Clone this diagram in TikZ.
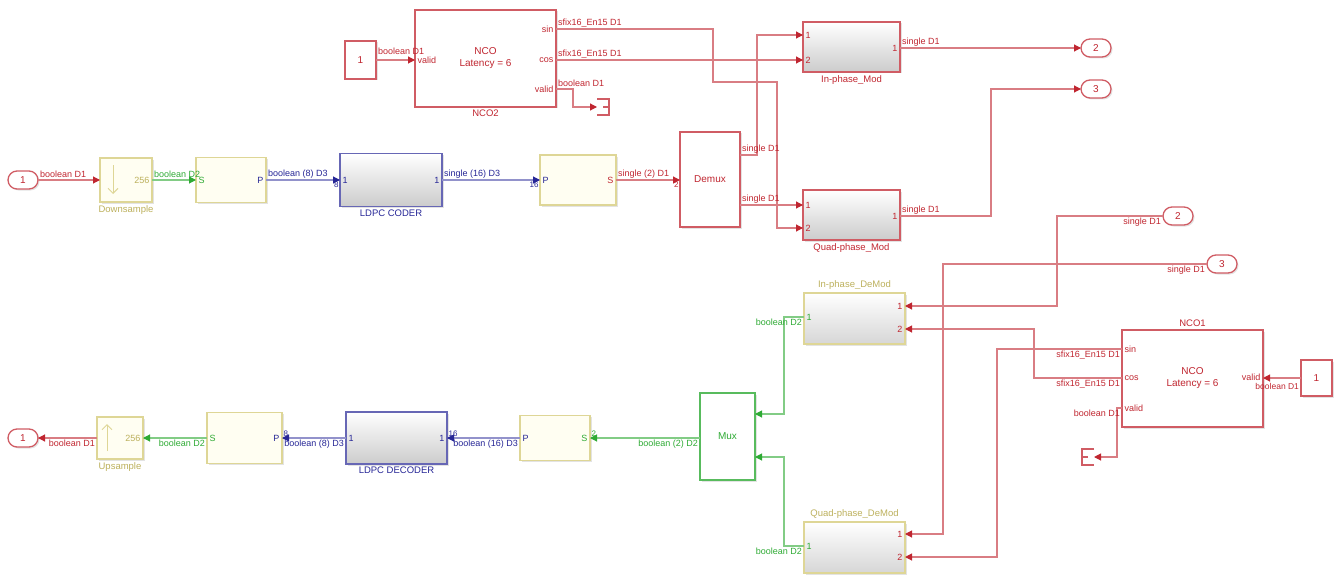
\documentclass[tikz,border=0pt]{standalone}
\usepackage{fontspec}
\setmainfont{Liberation Sans}
\usetikzlibrary{calc,positioning,arrows.meta,shapes.misc,shadows}

\definecolor{simred}{RGB}{192,38,48}
\definecolor{simgreen}{RGB}{46,170,52}
\definecolor{simblue}{RGB}{38,38,150}
\definecolor{simkhaki}{RGB}{222,214,150}
\definecolor{khakitxt}{RGB}{188,176,92}

\tikzset{
  blk/.style={draw, line width=1.3pt, inner sep=0pt, outer sep=0pt,
    anchor=north west, align=center, font=\fontsize{10}{12}\selectfont,
    drop shadow={opacity=0.22, shadow xshift=1.5pt, shadow yshift=-1.5pt}},
  redblk/.style={blk, draw=simred!75, fill=white, text=simred},
  modblk/.style={blk, draw=simred!75, top color=white, bottom color=black!20},
  demodblk/.style={blk, draw=simkhaki, top color=white, bottom color=black!16},
  ldpcblk/.style={blk, draw=simblue!70, line width=1.6pt, top color=white, bottom color=black!20},
  convblk/.style={blk, draw=simkhaki, fill=yellow!5},
  muxblk/.style={blk, draw=simgreen!80, fill=white, text=simgreen},
  iport/.style={rounded rectangle, draw=simred!75, line width=1.3pt, fill=white,
    text=simred, minimum width=30pt, minimum height=18pt, inner sep=0pt,
    outer sep=0pt, font=\fontsize{10}{12}\selectfont,
    drop shadow={opacity=0.22, shadow xshift=1.5pt, shadow yshift=-1.5pt}},
  ttl/.style={font=\fontsize{9.5}{11}\selectfont, inner sep=3pt},
  plbl/.style={font=\fontsize{9}{10}\selectfont, inner sep=2.5pt},
  sl/.style={font=\fontsize{9}{10}\selectfont, inner sep=1.5pt},
  dimlbl/.style={font=\fontsize{8}{9}\selectfont, inner sep=1pt},
  rsig/.style={draw=simred!60, line width=1.1pt, -{Triangle[length=7pt,width=7pt,color=simred]}},
  gsig/.style={draw=simgreen!60, line width=1.1pt, -{Triangle[length=7pt,width=7pt,color=simgreen]}},
  bsig/.style={draw=simblue!50, line width=1.1pt, -{Triangle[length=7pt,width=7pt,color=simblue]}},
  termline/.style={draw=simred!75, line width=1.2pt},
  ratearrow/.style={draw=simkhaki, line width=1pt, -{Straight Barb[length=5pt,width=10pt]}}
}

\begin{document}
\begin{tikzpicture}[x=1pt, y=-1pt]
  \useasboundingbox (0,0) rectangle (1343,575);

  % transmitter: carrier generator
  \node[redblk, minimum width=31pt, minimum height=38pt] (c2) at (345,41) {1};
  \node[redblk, minimum width=141pt, minimum height=97pt,
    label={[ttl, text=simred]below:NCO2}] (nco2) at (415,10) {NCO\\Latency = 6};
  \node[minimum width=12pt, minimum height=16pt, inner sep=0pt, outer sep=0pt] (term2) at (603,107) {};

  % transmitter: modulators and outputs
  \node[modblk, minimum width=97pt, minimum height=50pt,
    label={[ttl, text=simred]below:In-phase\_Mod}] (ipmod) at (803,22) {};
  \node[modblk, minimum width=97pt, minimum height=50pt,
    label={[ttl, text=simred]below:Quad-phase\_Mod}] (qpmod) at (803,190) {};
  \node[iport] (out2) at (1096,48) {2};
  \node[iport] (out3) at (1096,89) {3};
  \node[redblk, minimum width=60pt, minimum height=95pt] (demux) at (680,132) {Demux};

  % transmitter: coding chain
  \node[iport] (in1) at (23,180) {1};
  \node[convblk, minimum width=52pt, minimum height=44pt,
    label={[ttl, text=khakitxt]below:Downsample}] (down) at (100,158) {};
  \node[convblk, minimum width=70pt, minimum height=45pt] (sp1) at (196,157.5) {};
  \node[ldpcblk, minimum width=102pt, minimum height=53pt,
    label={[ttl, text=simblue]below:LDPC CODER}] (coder) at (340,153.5) {};
  \node[convblk, minimum width=76pt, minimum height=50pt] (ps1) at (540,155) {};

  % receiver: inputs and carrier generator
  \node[iport] (ri2) at (1178,216) {2};
  \node[iport] (ri3) at (1222,264) {3};
  \node[redblk, minimum width=141pt, minimum height=97pt,
    label={[ttl, text=simred]above:NCO1}] (nco1) at (1122,330) {NCO\\Latency = 6};
  \node[redblk, minimum width=31pt, minimum height=36pt] (c1) at (1301,360) {1};
  \node[minimum width=12pt, minimum height=16pt, inner sep=0pt, outer sep=0pt] (term1) at (1088,457) {};

  % receiver: demodulators
  \node[demodblk, minimum width=101pt, minimum height=51pt,
    label={[ttl, text=khakitxt]above:In-phase\_DeMod}] (ipdem) at (804,293) {};
  \node[demodblk, minimum width=101pt, minimum height=51pt,
    label={[ttl, text=khakitxt]above:Quad-phase\_DeMod}] (qpdem) at (804,522) {};
  \node[muxblk, minimum width=55pt, minimum height=87pt] (mux) at (700,393) {Mux};

  % receiver: decoding chain
  \node[convblk, minimum width=70pt, minimum height=45pt] (ps2) at (520,415.5) {};
  \node[ldpcblk, minimum width=101pt, minimum height=52pt,
    label={[ttl, text=simblue]below:LDPC DECODER}] (dec) at (346,412) {};
  \node[convblk, minimum width=75pt, minimum height=51pt] (sp2) at (207,412.5) {};
  \node[convblk, minimum width=46pt, minimum height=42pt,
    label={[ttl, text=khakitxt]below:Upsample}] (up) at (97,417) {};
  \node[iport] (out1) at (23,438) {1};

  % ports
  \coordinate[label={[plbl, text=simred]right:valid}] (nco2-vin) at (nco2.west |- 0,60);
  \coordinate[label={[plbl, text=simred]left:sin}] (nco2-sin) at (nco2.east |- 0,29);
  \coordinate[label={[plbl, text=simred]left:cos}] (nco2-cos) at (nco2.east |- 0,60);
  \coordinate[label={[plbl, text=simred]left:valid}] (nco2-vout) at (nco2.east |- 0,89);
  \coordinate[label={[plbl, text=simred]right:1}] (ipmod-in1) at (ipmod.west |- 0,35);
  \coordinate[label={[plbl, text=simred]right:2}] (ipmod-in2) at (ipmod.west |- 0,60);
  \coordinate[label={[plbl, text=simred]left:1}] (ipmod-out) at (ipmod.east |- 0,48);
  \coordinate[label={[plbl, text=simred]right:1}] (qpmod-in1) at (qpmod.west |- 0,205);
  \coordinate[label={[plbl, text=simred]right:2}] (qpmod-in2) at (qpmod.west |- 0,228);
  \coordinate[label={[plbl, text=simred]left:1}] (qpmod-out) at (qpmod.east |- 0,216);
  \coordinate (demux-in) at (demux.west |- 0,180);
  \coordinate (demux-o1) at (demux.east |- 0,155);
  \coordinate (demux-o2) at (demux.east |- 0,205);
  \coordinate (down-in) at (down.west |- 0,180);
  \coordinate (down-out) at (down.east |- 0,180);
  \coordinate[label={[plbl, text=simgreen]right:S}] (sp1-in) at (sp1.west |- 0,180);
  \coordinate[label={[plbl, text=simblue]left:P}] (sp1-out) at (sp1.east |- 0,180);
  \coordinate[label={[plbl, text=simblue]right:1}] (coder-in) at (coder.west |- 0,180);
  \coordinate[label={[plbl, text=simblue]left:1}] (coder-out) at (coder.east |- 0,180);
  \coordinate[label={[plbl, text=simblue]right:P}] (ps1-in) at (ps1.west |- 0,180);
  \coordinate[label={[plbl, text=simred]left:S}] (ps1-out) at (ps1.east |- 0,180);

  \coordinate[label={[plbl, text=simred]right:sin}] (nco1-sin) at (nco1.west |- 0,349);
  \coordinate[label={[plbl, text=simred]right:cos}] (nco1-cos) at (nco1.west |- 0,378);
  \coordinate[label={[plbl, text=simred]right:valid}] (nco1-vout) at (nco1.west |- 0,408);
  \coordinate[label={[plbl, text=simred, yshift=1pt]left:valid}] (nco1-vin) at (nco1.east |- 0,378);
  \coordinate[label={[plbl, text=simred]left:1}] (ipdem-in1) at (ipdem.east |- 0,306);
  \coordinate[label={[plbl, text=simred]left:2}] (ipdem-in2) at (ipdem.east |- 0,329);
  \coordinate[label={[plbl, text=simgreen]right:1}] (ipdem-out) at (ipdem.west |- 0,317);
  \coordinate[label={[plbl, text=simred]left:1}] (qpdem-in1) at (qpdem.east |- 0,534);
  \coordinate[label={[plbl, text=simred]left:2}] (qpdem-in2) at (qpdem.east |- 0,557);
  \coordinate[label={[plbl, text=simgreen]right:1}] (qpdem-out) at (qpdem.west |- 0,546);
  \coordinate (mux-in1) at (mux.east |- 0,414);
  \coordinate (mux-in2) at (mux.east |- 0,457);
  \coordinate (mux-out) at (mux.west |- 0,438);
  \coordinate[label={[plbl, text=simgreen]left:S}] (ps2-in) at (ps2.east |- 0,438);
  \coordinate[label={[plbl, text=simblue]right:P}] (ps2-out) at (ps2.west |- 0,438);
  \coordinate[label={[plbl, text=simblue]left:1}] (dec-in) at (dec.east |- 0,438);
  \coordinate[label={[plbl, text=simblue]right:1}] (dec-out) at (dec.west |- 0,438);
  \coordinate[label={[plbl, text=simblue]left:P}] (sp2-in) at (sp2.east |- 0,438);
  \coordinate[label={[plbl, text=simgreen]right:S}] (sp2-out) at (sp2.west |- 0,438);
  \coordinate (up-in) at (up.east |- 0,438);
  \coordinate (up-out) at (up.west |- 0,438);

  % rate change icons and terminators
  \draw[ratearrow] ($(down.north west)+(13,7)$) -- ($(down.south west)+(13,-8)$);
  \node[plbl, text=khakitxt, anchor=east] (down-n) at (down.east) {256};
  \draw[ratearrow] ($(up.south west)+(10,-8)$) -- ($(up.north west)+(10,7)$);
  \node[plbl, text=khakitxt, anchor=east] (up-n) at (up.east) {256};
  \draw[termline] (term2.north west) -- (term2.north east) -- (term2.south east) -- (term2.south west)
    (term2.center) -- (term2.east);
  \draw[termline] (term1.north east) -- (term1.north west) -- (term1.south west) -- (term1.south east)
    (term1.center) -- (term1.west);

  % transmitter signals
  \draw[rsig] (c2.east) node[sl, text=simred, anchor=south west, yshift=3pt] {boolean D1} -- (nco2-vin);
  \draw[rsig] (nco2-sin) node[sl, text=simred, anchor=south west] {sfix16\_En15 D1}
    -| (713,82) -| (777,228) -- (qpmod-in2);
  \draw[rsig] (nco2-cos) node[sl, text=simred, anchor=south west] {sfix16\_En15 D1} -- (ipmod-in2);
  \draw[rsig] (nco2-vout) node[sl, text=simred, anchor=south west] {boolean D1}
    -| (573,107) -- (term2.west);
  \draw[rsig] (in1.east) node[sl, text=simred, anchor=south west] {boolean D1} -- (down-in);
  \draw[gsig] (down-out) node[sl, text=simgreen, anchor=south west] {boolean D2} -- (sp1-in);
  \draw[bsig] (sp1-out) node[sl, text=simblue, anchor=south west] {boolean (8) D3}
    -- (coder-in) node[dimlbl, text=simblue, anchor=north east] {8};
  \draw[bsig] (coder-out) node[sl, text=simblue, anchor=south west] {single (16) D3}
    -- (ps1-in) node[dimlbl, text=simblue, anchor=north east] {16};
  \draw[rsig] (ps1-out) node[sl, text=simred, anchor=south west] {single (2) D1}
    -- (demux-in) node[dimlbl, text=simred, anchor=north east] {2};
  \draw[rsig] (demux-o1) node[sl, text=simred, anchor=south west] {single D1}
    -| (757,35) -- (ipmod-in1);
  \draw[rsig] (demux-o2) node[sl, text=simred, anchor=south west] {single D1} -- (qpmod-in1);
  \draw[rsig] (ipmod-out) node[sl, text=simred, anchor=south west] {single D1} -- (out2.west);
  \draw[rsig] (qpmod-out) node[sl, text=simred, anchor=south west] {single D1}
    -| (991,89) -- (out3.west);

  % receiver signals
  \draw[rsig] (ri2.west) node[sl, text=simred, anchor=north east] {single D1}
    -| (1057,306) -- (ipdem-in1);
  \draw[rsig] (ri3.west) node[sl, text=simred, anchor=north east] {single D1}
    -| (943,534) -- (qpdem-in1);
  \draw[rsig] (nco1-cos) node[sl, text=simred, anchor=north east] {sfix16\_En15 D1}
    -| (1034,329) -- (ipdem-in2);
  \draw[rsig] (nco1-sin) node[sl, text=simred, anchor=north east] {sfix16\_En15 D1}
    -| (997,557) -- (qpdem-in2);
  \draw[rsig] (nco1-vout) node[sl, text=simred, anchor=north east] {boolean D1}
    -| (1117,457) -- (term1.east);
  \draw[rsig] (c1.west) node[sl, text=simred, anchor=north east, font=\fontsize{8.5}{10}\selectfont,
    yshift=-3pt] {boolean D1} -- (nco1-vin);
  \draw[gsig] (ipdem-out) node[sl, text=simgreen, anchor=north east] {boolean D2}
    -| (784,414) -- (mux-in1);
  \draw[gsig] (qpdem-out) node[sl, text=simgreen, anchor=north east] {boolean D2}
    -| (784,457) -- (mux-in2);
  \draw[gsig] (mux-out) node[sl, text=simgreen, anchor=north east] {boolean (2) D2}
    -- (ps2-in) node[dimlbl, text=simgreen, anchor=south west] {2};
  \draw[bsig] (ps2-out) node[sl, text=simblue, anchor=north east] {boolean (16) D3}
    -- (dec-in) node[dimlbl, text=simblue, anchor=south west] {16};
  \draw[bsig] (dec-out) node[sl, text=simblue, anchor=north east] {boolean (8) D3}
    -- (sp2-in) node[dimlbl, text=simblue, anchor=south west] {8};
  \draw[gsig] (sp2-out) node[sl, text=simgreen, anchor=north east] {boolean D2} -- (up-in);
  \draw[rsig] (up-out) node[sl, text=simred, anchor=north east] {boolean D1} -- (out1.east);
\end{tikzpicture}
\end{document}
